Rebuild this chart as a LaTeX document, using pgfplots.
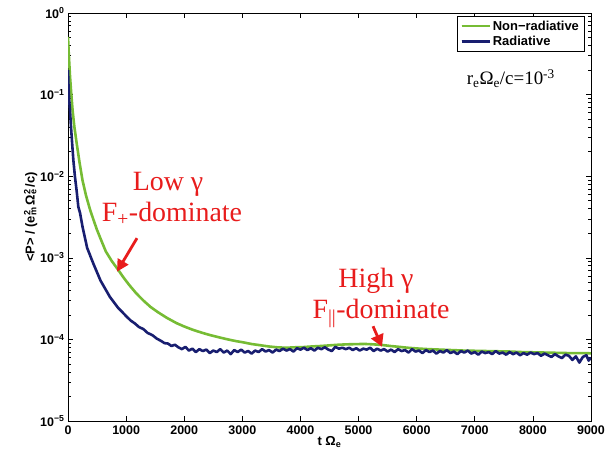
\documentclass[border=0pt]{standalone}
\usepackage{pgfplots}
\pgfplotsset{compat=1.18}
\usepackage{fontspec}
\setmainfont{Liberation Sans}
\newfontfamily\seriffont{Liberation Serif}
\usetikzlibrary{arrows.meta}

\definecolor{nonrad}{RGB}{118,188,52}
\definecolor{rad}{RGB}{24,30,112}
\definecolor{annot}{RGB}{232,28,28}

% Mean radiated power, non-radiative run
\pgfplotstableread{
t P
0 0.51
15 0.30
35 0.166
55 0.105
80 0.063
110 0.040
150 0.0251
200 0.0145
250 0.0089
310 0.0058
380 0.00389
440 0.0029
500 0.00219
570 0.00165
650 0.00120
750 9.2e-4
866 7.08e-4
950 5.8e-4
1050 4.68e-4
1170 3.7e-4
1296 3.0e-4
1420 2.5e-4
1550 2.15e-4
1700 1.84e-4
1870 1.58e-4
2000 1.44e-4
2150 1.31e-4
2300 1.21e-4
2444 1.13e-4
2600 1.06e-4
2750 1.0e-4
2900 9.5e-5
3017 9.2e-5
3150 8.8e-5
3300 8.5e-5
3450 8.2e-5
3600 8.0e-5
3750 7.9e-5
3900 8.0e-5
4050 8.05e-5
4200 8.2e-5
4350 8.3e-5
4500 8.45e-5
4650 8.6e-5
4800 8.7e-5
4950 8.75e-5
5100 8.8e-5
5250 8.7e-5
5400 8.55e-5
5550 8.3e-5
5700 8.1e-5
5850 7.9e-5
6000 7.75e-5
6200 7.6e-5
6400 7.5e-5
6600 7.4e-5
6800 7.3e-5
7000 7.25e-5
7200 7.2e-5
7400 7.15e-5
7600 7.1e-5
7800 7.0e-5
8000 6.95e-5
8200 6.9e-5
8400 6.85e-5
8600 6.8e-5
8800 6.8e-5
9000 6.75e-5
}\nonradtable

% Mean radiated power, radiative run
\pgfplotstableread{
t P
0 0.20
10 0.12
20 0.085
34 0.065
50 0.042
70 0.026
92 0.0158
120 0.0098
150 0.0065
178 0.0042
207 0.00355
250 0.0024
330 0.00132
436 8.5e-4
560 5.25e-4
723 3.3e-4
860 2.45e-4
1010 1.9e-4
1080 1.70e-4
1150 1.57e-4
1220 1.42e-4
1296 1.34e-4
1370 1.20e-4
1450 1.13e-4
1530 1.02e-4
1600 9.6e-5
1660 9.0e-5
1720 8.9e-5
1780 8.3e-5
1840 8.6e-5
1900 8.0e-5
1960 7.6e-5
2020 8.1e-5
2080 7.3e-5
2140 7.7e-5
2200 7.0e-5
2260 7.6e-5
2320 7.2e-5
2380 7.5e-5
2440 6.8e-5
2500 7.3e-5
2560 7.0e-5
2620 7.6e-5
2680 6.9e-5
2740 7.3e-5
2800 6.6e-5
2860 7.4e-5
2920 7.0e-5
2980 7.5e-5
3040 6.9e-5
3100 7.2e-5
3160 6.7e-5
3220 7.3e-5
3280 7.0e-5
3340 7.6e-5
3400 7.1e-5
3460 7.4e-5
3520 6.9e-5
3580 7.5e-5
3640 7.2e-5
3700 7.7e-5
3760 7.3e-5
3820 7.6e-5
3880 7.1e-5
3940 7.8e-5
4000 7.5e-5
4060 7.9e-5
4120 7.4e-5
4180 7.8e-5
4240 7.3e-5
4300 7.9e-5
4360 7.6e-5
4420 8.0e-5
4480 7.5e-5
4540 7.2e-5
4600 8.1e-5
4660 7.7e-5
4720 7.9e-5
4780 7.6e-5
4840 7.9e-5
4900 7.4e-5
4960 7.8e-5
5020 7.3e-5
5080 7.7e-5
5140 7.5e-5
5200 7.9e-5
5260 7.2e-5
5320 7.7e-5
5380 7.3e-5
5440 7.6e-5
5500 7.1e-5
5560 7.5e-5
5620 7.0e-5
5680 7.6e-5
5740 7.2e-5
5800 7.4e-5
5860 6.9e-5
5920 7.6e-5
5980 7.1e-5
6040 7.3e-5
6100 6.8e-5
6160 7.4e-5
6220 7.0e-5
6280 7.3e-5
6340 6.7e-5
6400 7.2e-5
6460 6.9e-5
6520 7.4e-5
6580 6.8e-5
6640 7.1e-5
6700 6.6e-5
6760 7.2e-5
6820 6.9e-5
6880 7.3e-5
6940 6.7e-5
7000 7.0e-5
7060 6.5e-5
7120 7.1e-5
7180 6.8e-5
7240 7.0e-5
7300 6.6e-5
7360 7.2e-5
7420 6.7e-5
7480 6.9e-5
7540 6.5e-5
7600 7.0e-5
7660 6.6e-5
7720 6.9e-5
7780 6.4e-5
7840 6.8e-5
7900 6.5e-5
7960 6.9e-5
8020 6.6e-5
8080 6.8e-5
8140 6.3e-5
8200 6.7e-5
8260 6.4e-5
8320 6.1e-5
8380 6.6e-5
8440 6.2e-5
8500 5.9e-5
8560 6.5e-5
8620 6.3e-5
8680 5.6e-5
8740 6.2e-5
8800 5.2e-5
8860 6.1e-5
8920 6.4e-5
8960 5.5e-5
9000 6.0e-5
}\radtable

\begin{document}
\begin{tikzpicture}
\begin{axis}[
  at={(0,0)}, anchor=south west,
  scale only axis, width=523bp, height=408bp,
  ymode=log,
  xmin=0, xmax=9000, ymin=1e-5, ymax=1,
  xtick={0,1000,...,9000},
  ytick={1e-5,1e-4,1e-3,1e-2,1e-1,1},
  yticklabels={10\textsuperscript{−5},10\textsuperscript{−4},10\textsuperscript{−3},10\textsuperscript{−2},10\textsuperscript{−1},10\textsuperscript{0}},
  scaled x ticks=false,
  /pgf/number format/assume math mode=true,
  /pgf/number format/set thousands separator={},
  tick align=inside,
  major tick length=5bp, minor tick length=3bp,
  tick style={black, line width=0.6bp},
  axis line style={black, line width=0.9bp},
  ticklabel style={font=\fontsize{12.5}{14}\selectfont\bfseries},
  xticklabel style={yshift=-1bp},
  xlabel={\fontsize{13}{15}\selectfont\bfseries t Ω\textsubscript{e}},
  ylabel={\fontsize{13}{15}\selectfont\bfseries \textless P\textgreater{} / (e\rlap{\textsuperscript{2}}\textsubscript{m}\,Ω\rlap{\textsuperscript{2}}\textsubscript{e}\,/c)},
  xlabel style={yshift=5bp},
  ylabel style={yshift=-4bp},
  legend style={at={(rel axis cs:0.987,0.993)}, anchor=north east,
    draw=black, line width=0.6bp, fill=white,
    font=\fontsize{13}{15}\selectfont\bfseries,
    inner xsep=3bp, inner ysep=2.5bp, row sep=0.5bp},
  legend cell align=left,
  legend image code/.code={%
    \draw[#1, line width=2.2bp] (0bp,0bp) -- (17bp,0bp);
    \path (0bp,0bp) -- (28bp,0bp);},
  every axis plot/.append style={line width=2.6bp, line join=round},
]
\addplot[nonrad] table[x=t, y=P] {\nonradtable};
\addlegendentry{Non−radiative}
\addplot[rad] table[x=t, y=P] {\radtable};
\addlegendentry{Radiative}

% parameter label
\node[anchor=base, font=\seriffont\fontsize{19}{21}\selectfont]
  at (axis cs:7620,0.132) {r\textsubscript{e}Ω\textsubscript{e}/c=10\textsuperscript{-3}};

% regime annotations
\node[anchor=base, text=annot, font=\seriffont\fontsize{28}{30}\selectfont]
  at (axis cs:1721,6.76e-3) {Low γ};
\node[anchor=base, text=annot, font=\seriffont\fontsize{28}{30}\selectfont]
  at (axis cs:1790,2.75e-3) {F\textsubscript{+}-dominate};
\draw[annot, line width=2.8bp, -{Triangle[length=12bp,width=12bp]}]
  (axis cs:1187,1.74e-3) -- (axis cs:843,6.76e-4);

\node[anchor=base, text=annot, font=\seriffont\fontsize{28}{30}\selectfont]
  at (axis cs:5300,4.37e-4) {High γ};
\node[anchor=base, text=annot, font=\seriffont\fontsize{28}{30}\selectfont]
  at (axis cs:5386,1.82e-4) {F\textsubscript{||}-dominate};
\draw[annot, line width=2.8bp, -{Triangle[length=12bp,width=13bp]}]
  (axis cs:5249,1.45e-4) -- (axis cs:5403,8.13e-5);
\end{axis}
\pgfresetboundingbox
\path (-68bp,-35bp) rectangle (545bp,421bp);
\end{tikzpicture}
\end{document}
